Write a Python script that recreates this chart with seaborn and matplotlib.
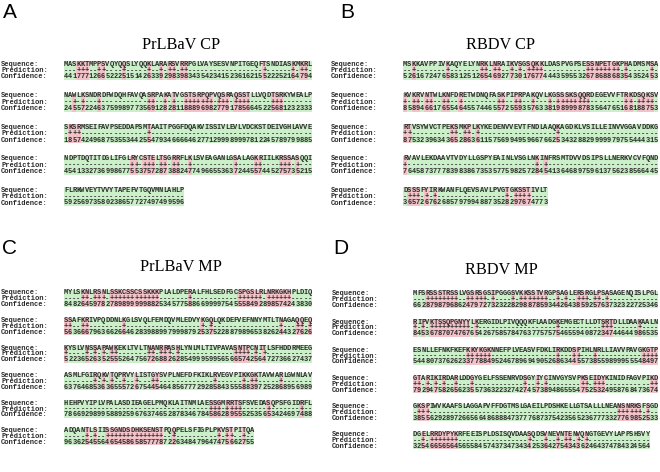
import numpy as np
import matplotlib
matplotlib.use("Agg")
import matplotlib.pyplot as plt
from matplotlib.colors import ListedColormap
import seaborn as sns

# ---------------- data ----------------
panel_letters = ["A", "B", "C", "D"]
panel_titles = ["PrLBaV CP", "RBDV CP", "PrLBaV MP", "RBDV MP"]
row_labels = ["Sequence:", "Prediction:", "Confidence:"]

# prediction strings are written in groups of ten (spaces are removed)
A_seq = [
    "MASKKTMPPSVQYQQSLYQQKLARARSVRRPGLVAYSESVNPITGEQFTSNDIASKMKRL",
    "NAWLKSNDRDFWDQHFAVQASRPAKATVGSTSRPQPVQSRAQSSTLLVQDTSRKYWEALP",
    "SKSRMSEIFAVPSEDDAPSMTAAITPGGFDQAKVISSIVLEVLVDCKSTDEIVGHLAVVE",
    "NDPTDQTITDGLIFGLRYCSTELTSGRRFLKLSVEAGANLGSALAGKRIILKRSSASQQI",
    "FLRKWVEYTVVYTAPEFVTGQVMNLAHLP",
]
A_pred = [
    "---+++--++ ----+----- +--+-++-++ ---------- --------+- -----+-++-",
    "--+-+---+- ---------- ++--+-+--+ ++++++-+++ -++++----- +++-------",
    "-+++------ ---------- +--------- ---------- ---------- ----------",
    "---------- ------++-+ ++-++-++-- +--------- -+----++-- --+++-+---",
    "---------- ---------- ---------",
]
A_conf = [
    "441777126652225151426339298398343542341523616215522252164794",
    "245572246375998977356912828118889698277917856645225681232333",
    "185742496875355344255479346666462771299989997812245789799885",
    "454133273699867755375728738824774966553637244557445275735215",
    "59256973580238657727497499596",
]

B_seq = [
    "MSKKAVPPIVKAQYELYNRKLNRAIKVSGSQKKLDASPVGPSESSNPETGKPHADMSMSA",
    "KVKRVNTWLKNFDRETWDNQFASKPIPRPAKQVLKGSSSKSQQRDEGEVVFTRKDSQKSV",
    "RTVSYWVCTPEKSMKPLKYKEDENVVEVTFNDLAAQKAGDKLVSILLEINVVGGAVDDKG",
    "RVAVLEKDAAVTVDYLLGSPYEAINLVSGLNKINFRSMTDVVDSIPSLLNERKVCVFQND",
    "DSSSFYIRKWANFLQEVSAVLPVGTGKSSTIVLT",
]
B_pred = [
    "--+------- +-------++ -++--+-+-+ +++------- ---+++++++ +-+-----+-",
    "+-++-++--+ +--+------ --++--++-- +---+-++++ ++++------ --++-++++-",
    "++-------- -++-++-+-- ---------- ------+--- ---------- ----------",
    "+--------- ---------- ---------- -+-+------ ---------- ----------",
    "-+++-+-+-- ---------- ----+-++++ ----",
]
B_conf = [
    "526167247658312512654692773017677444359553267868868354352453",
    "858946617655464557446557255935763381989998783564765168188753",
    "875323963436528636115756994959667662534328829999979755444315",
    "764587377783983867353577598257284541364689759613756238566445",
    "3657267626857979948873528297674773",
]

C_seq = [
    "MYLSKNLRSNLSSKCSSCSSKKKPLALDPERALFHLSEDFGCSPGSLRLNRKGKHPLDIQ",
    "SSAFKRIVPQDDNLKGLSVQLFEMDQVMLEDVYKGQLQKDEFVEFNNYMTLTNAGAQQEQ",
    "KYSLVNSSAPAWKEKLTVLTNANRRASHLYNLMLTIVPAVASNTPCNITLSFHDDRMEEG",
    "ASMLFGIRQKVTQPRVYLISTGYSVPLNEFDFKIKLRVEGVPIKKGKTAVWARLGWNLAV",
    "HEHPVYIPLVPALASDIEAGELPMQKLAITNMLAESSGMRRTSFSVEDASQPSFGIDRFL",
    "ADQANTLSIISSGNDSDHKSENSTPQQPELSFIGPLPKVSTPITQA",
]
C_pred = [
    "----++-+++ -+++++++++ +++------- +--------- --++++++-+ +++++-----",
    "++--++---- ----+----- ---------- ---+-+---- ---------- --+---++-+",
    "+----+-+-+ -++------- ++-+++-+-- ---------- -++++-+-+- ----------",
    "-------+-+ -+--+--+-- -++------- ------+--- ---+-++--- --+-------",
    "---------- ---------- ---------- -----+++-+ +++------+ -------+--",
    "-----+-+-- ++++++++++ ++++--+--- -------+-+ +--+--",
]
C_conf = [
    "848264597827898999998825345775886699997545558492898574243830",
    "563666796366266462839889979998792537522887989653826244327626",
    "522365263525552647567268826285499959956566574256472736627437",
    "637646853636555726754454648567772928584355588397252868956989",
    "786692989958892596763746528783467845862895552535653424697488",
    "9636254556465458658577787226348479647475662755",
]

D_seq = [
    "MFSRSSSTRSSLVGSRSGSIPGGGSVKKSSTVRGPSAGLERSRGLPSASAGENQISLPGL",
    "RIPVKTSSQPGNYYLKERGIDLPIVQQQKFLAADGKEMGECTLLDTSRTDLLDAAKAALN",
    "ESNLLEFNKFKEFKKYKGKNNEFPLVEASVFDKLIRKDDSPIHLNRLLIAVVPAVGKGTP",
    "GTARIKIRDARLDDGYGELFSSENRVDSGYIYCINVGYSVPKSEIDYKINIDFAGVPIKD",
    "GKSPIWVKAAFSLAGGAPVFFDGTMSLGAEILPDSHKELLGTSALLLNEANSNRKSFSGD",
    "DGELRRDYPYKRFEEISPLDSISQVDAASQDSVNEVNTENVQNGTGEVYLAPPSHSVY",
]
D_pred = [
    "---+++++++ +--+++++-+ ----+-++++ +++--+-+-- +++-++-+-- ----------",
    "+-+-++++++ ++++-+---- ---------- -----+---- ------+++- -----+----",
    "---------- ---++++++- ---------- -----+---+ +---+----- ------++++",
    "++-+-+-+-- +---+----- -------+-- +-+------- -++-+++--- --------++",
    "-+++------ ---------- ---------- ---------- ---------- ++++++-+--",
    "--+-++++++ +--------- --------+- --+--+-++- +-+------- --------",
]
D_conf = [
    "662879879686247972732322829887859344264385925763732322725346",
    "845367870747676542675857847637757575465594087234744644986535",
    "544807376262337788495246789694905268634455738559899955548497",
    "792947582656235573632232742745738948655547525324958768473674",
    "385562928972665664868884737776873754235652367773327769852533",
    "3254665656456558457437347343425364275434362464374784324564",
]

# ---------------- layout (pixels) ----------------
W, H = 660, 472
GREEN = "#cbefc8"
PINK = "#f2c2c8"
cmap = ListedColormap([GREEN, PINK])

panels = [
    dict(seq=A_seq, pred=A_pred, conf=A_conf, x0=64.0, cw=4.13, top0=61.0, step=31.5, rh=6.4,
         lab_x=1, letter=(3, 12), title=(181, 45)),
    dict(seq=B_seq, pred=B_pred, conf=B_conf, x0=403.0, cw=4.25, top0=61.0, step=31.5, rh=6.4,
         lab_x=331, letter=(340, 13), title=(500, 45)),
    dict(seq=C_seq, pred=C_pred, conf=C_conf, x0=64.0, cw=4.13, top0=290.0, step=27.6, rh=5.8,
         lab_x=1, letter=(2, 248), title=(181, 267)),
    dict(seq=D_seq, pred=D_pred, conf=D_conf, x0=413.0, cw=4.08, top0=291.0, step=28.2, rh=5.8,
         lab_x=332, letter=(333, 248), title=(501, 270)),
]

sns.set_theme(style="white")
plt.rcParams["font.family"] = ["DejaVu Sans"]

fig = plt.figure(figsize=(W / 100, H / 100), dpi=100)
fig.patch.set_facecolor("white")

MONO = "Liberation Mono"
mono_size = 5.0

for pi, p in enumerate(panels):
    lx, ly = p["letter"]
    fig.text(lx / W, 1 - ly / H, panel_letters[pi], family="Liberation Sans",
             fontsize=15, ha="left", va="center", color="black")
    tx, ty = p["title"]
    fig.text(tx / W, 1 - ty / H, panel_titles[pi], family="Liberation Serif",
             fontsize=11.7, ha="center", va="center", color="black")
    for bi, (s, pr, cf) in enumerate(zip(p["seq"], p["pred"], p["conf"])):
        pr = pr.replace(" ", "")
        n = len(s)
        pr = (pr + "-" * n)[:n]
        cf = (cf + "0" * n)[:n]
        top = p["top0"] + bi * p["step"]
        hgt = 3 * p["rh"]
        wid = n * p["cw"]
        ax = fig.add_axes([p["x0"] / W, 1 - (top + hgt) / H, wid / W, hgt / H])
        vals = np.array([[1 if c == "+" else 0 for c in pr]] * 3)
        labels = np.array([list(s), list(pr), list(cf)])
        sns.heatmap(vals, ax=ax, cmap=cmap, vmin=0, vmax=1, cbar=False,
                    annot=labels, fmt="", linewidths=0,
                    xticklabels=False, yticklabels=False,
                    annot_kws=dict(family=MONO, fontsize=mono_size,
                                   color="#2a2a2a", fontweight="bold"))
        ax.set_xlabel("")
        ax.set_ylabel("")
        for sp in ax.spines.values():
            sp.set_visible(False)
        for ri, lab in enumerate(row_labels):
            yc = top + (ri + 0.5) * p["rh"]
            fig.text(p["lab_x"] / W, 1 - yc / H, lab, family=MONO,
                     fontsize=mono_size, fontweight="bold", color="#2a2a2a",
                     ha="left", va="center")

fig.savefig("out.png", dpi=100, facecolor="white")
